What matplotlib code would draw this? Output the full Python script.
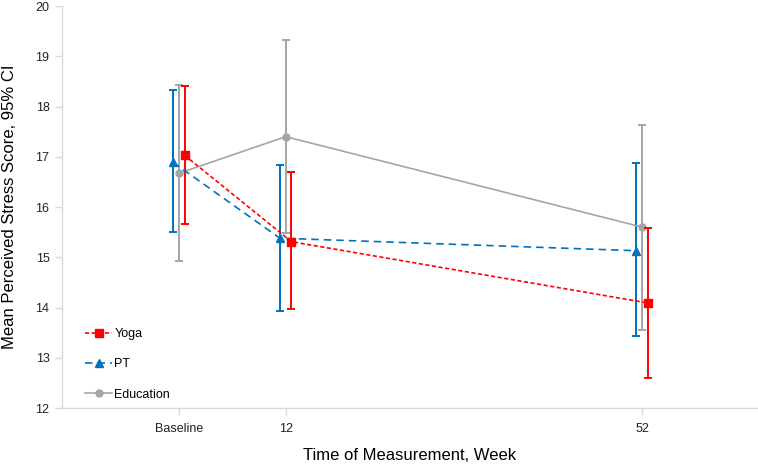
import matplotlib
matplotlib.use("Agg")
import matplotlib.pyplot as plt
import numpy as np

plt.rcParams['font.family'] = ['Liberation Sans', 'DejaVu Sans']

weeks = [0, 12, 52]
tick_labels = ['Baseline', '12', '52']

yoga_mean = [17.03, 15.31, 14.09]
yoga_lo = [15.67, 13.97, 12.60]
yoga_hi = [18.41, 16.69, 15.58]

pt_mean = [16.89, 15.38, 15.13]
pt_lo = [15.51, 13.94, 13.43]
pt_hi = [18.33, 16.84, 16.87]

edu_mean = [16.67, 17.40, 15.60]
edu_lo = [14.93, 15.48, 13.56]
edu_hi = [18.42, 19.32, 17.63]

fig = plt.figure(figsize=(7.58, 4.67), dpi=100)
ax = fig.add_axes([0.0818, 0.1263, 0.9182, 0.8608])

def draw(mean, lo, hi, offset, color, marker, ms, dashes, label, z):
    x = np.array(weeks) + offset
    m = np.array(mean)
    err = [m - np.array(lo), np.array(hi) - m]
    ax.errorbar(x, m, yerr=err, fmt='none', ecolor=color, elinewidth=1.4,
                capsize=2.6, capthick=1.4, zorder=z)
    line, = ax.plot(x, m, color=color, marker=marker, markersize=ms,
                    linewidth=1.2, label=label, zorder=z + 1)
    if dashes:
        line.set_dashes(dashes)

draw(yoga_mean, yoga_lo, yoga_hi, 0.65, '#FF0000', 's', 5.5, (2.5, 1.5), 'Yoga', 3)
draw(pt_mean, pt_lo, pt_hi, -0.65, '#0070C0', '^', 6, (4.5, 3), 'PT', 2)
draw(edu_mean, edu_lo, edu_hi, 0.0, '#A5A5A5', 'o', 5, None, 'Education', 1)

ax.set_xlim(-13.1, 65.0)
ax.set_ylim(12, 20)
ax.set_yticks(range(12, 21))
ax.set_xticks(weeks)
ax.set_xticklabels(tick_labels)

for s in ['top', 'right']:
    ax.spines[s].set_visible(False)
for s in ['left', 'bottom']:
    ax.spines[s].set_color('#D9D9D9')
    ax.spines[s].set_linewidth(1.0)
ax.tick_params(axis='both', colors='#D9D9D9', labelcolor='#222222',
               labelsize=9, length=5, width=1.0)
ax.tick_params(axis='x', pad=6)
ax.tick_params(axis='y', pad=4)

ax.set_xlabel('Time of Measurement, Week', fontsize=12, labelpad=9)
ax.set_ylabel('Mean Perceived Stress Score, 95% CI', fontsize=12, labelpad=13)

ax.legend(loc='lower left', bbox_to_anchor=(0.022, 0.0), frameon=False,
          fontsize=9, labelspacing=1.45, handlelength=2.2, handletextpad=0.15,
          borderaxespad=0.2)

fig.savefig('out.png', dpi=100)
